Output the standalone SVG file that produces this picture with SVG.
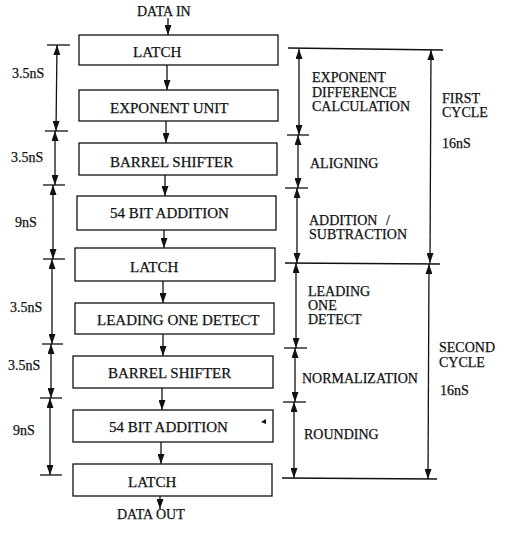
<svg xmlns="http://www.w3.org/2000/svg" width="508" height="536" viewBox="0 0 508 536">
<style>
  .box { fill: #fff; stroke: #111; stroke-width: 1.3; }
  .t { font-family: "Liberation Serif", "Times New Roman", serif; fill: #111; stroke: #111; stroke-width: 0.25; }
  .bt { font-size: 15px; }
  .lt { font-size: 14px; }
  .ln { stroke: #111; stroke-width: 1.3; fill: none; }
  .arr { stroke: #111; stroke-width: 1.3; fill: none; marker-end: url(#ah); }
  .dim { stroke: #111; stroke-width: 1.3; fill: none; marker-start: url(#ah); marker-end: url(#ah); }
</style>
<defs>
  <marker id="ah" viewBox="0 0 10 7" refX="10" refY="3.5" markerWidth="10" markerHeight="7" markerUnits="userSpaceOnUse" orient="auto-start-reverse">
    <path d="M0,0 L10,3.5 L0,7 z" fill="#111"/>
  </marker>
</defs>
<rect width="508" height="536" fill="#fff"/>

<g id="data-in"><text class="t lt" x="137" y="16" font-size="13.5">DATA IN</text></g>
<g id="latch1"><rect class="box" x="79" y="35" width="199" height="30"/><text class="t bt" x="133" y="57">LATCH</text></g>
<g id="exponent-unit"><rect class="box" x="79" y="90" width="199" height="31"/><text class="t bt" x="110" y="113">EXPONENT UNIT</text></g>
<g id="barrel-shifter1"><rect class="box" x="79" y="143" width="198" height="32"/><text class="t bt" x="110" y="167">BARREL SHIFTER</text></g>
<g id="add1"><rect class="box" x="77" y="196" width="199" height="34"/><text class="t bt" x="110" y="218">54 BIT ADDITION</text></g>
<g id="latch2"><rect class="box" x="75" y="248" width="200" height="33"/><text class="t bt" x="130" y="272">LATCH</text></g>
<g id="leading-one"><rect class="box" x="75" y="303" width="199" height="31"/><text class="t bt" x="97" y="325">LEADING ONE DETECT</text></g>
<g id="barrel-shifter2"><rect class="box" x="73" y="356" width="200" height="32"/><text class="t bt" x="108" y="378">BARREL SHIFTER</text></g>
<g id="add2"><rect class="box" x="73" y="410" width="200" height="32"/><text class="t bt" x="109" y="432">54 BIT ADDITION</text><path d="M266,419 L261,422 L266,424 z" fill="#111"/></g>
<g id="latch3"><rect class="box" x="73" y="464" width="199" height="32"/><text class="t bt" x="128" y="487">LATCH</text></g>
<g id="data-out"><text class="t lt" x="117" y="519" font-size="13.5">DATA OUT</text></g>

<g id="connectors">
  <line class="arr" x1="168" y1="18" x2="168" y2="35"/>
  <line class="arr" x1="167" y1="65" x2="167" y2="90"/>
  <line class="arr" x1="166" y1="121" x2="166" y2="143"/>
  <line class="arr" x1="165" y1="175" x2="165" y2="196"/>
  <line class="arr" x1="164" y1="230" x2="164" y2="248"/>
  <line class="arr" x1="163" y1="281" x2="163" y2="303"/>
  <line class="arr" x1="163" y1="334" x2="163" y2="356"/>
  <line class="arr" x1="162" y1="388" x2="162" y2="410"/>
  <line class="arr" x1="161" y1="442" x2="161" y2="464"/>
  <line class="arr" x1="160" y1="496" x2="160" y2="509"/>
</g>

<g id="left-timing">
  <line class="ln" x1="47" y1="45" x2="70" y2="45"/>
  <line class="ln" x1="45" y1="131" x2="68" y2="131"/>
  <line class="ln" x1="43" y1="185" x2="65" y2="185"/>
  <line class="ln" x1="43" y1="259" x2="65" y2="259"/>
  <line class="ln" x1="42" y1="344" x2="63" y2="344"/>
  <line class="ln" x1="40" y1="398" x2="62" y2="398"/>
  <line class="ln" x1="40" y1="475" x2="62" y2="475"/>
  <line class="dim" x1="57" y1="45" x2="56" y2="131"/>
  <line class="dim" x1="55" y1="131" x2="55" y2="185"/>
  <line class="dim" x1="53" y1="185" x2="53" y2="259"/>
  <line class="dim" x1="52" y1="259" x2="52" y2="344"/>
  <line class="dim" x1="51" y1="344" x2="51" y2="398"/>
  <line class="dim" x1="50" y1="398" x2="50" y2="475"/>
  <text class="t lt" x="12" y="78">3.5nS</text>
  <text class="t lt" x="11" y="162">3.5nS</text>
  <text class="t lt" x="15" y="227">9nS</text>
  <text class="t lt" x="10" y="312">3.5nS</text>
  <text class="t lt" x="8" y="370">3.5nS</text>
  <text class="t lt" x="13" y="435">9nS</text>
</g>

<g id="right-timing">
  <line class="ln" x1="288" y1="48" x2="443" y2="50"/>
  <line class="ln" x1="287" y1="135" x2="309" y2="135"/>
  <line class="ln" x1="285" y1="188" x2="308" y2="188"/>
  <line class="ln" x1="285" y1="263" x2="440" y2="264"/>
  <line class="ln" x1="284" y1="348" x2="307" y2="348"/>
  <line class="ln" x1="283" y1="402" x2="306" y2="402"/>
  <line class="ln" x1="282" y1="478" x2="437" y2="479"/>
  <line class="dim" x1="299" y1="49" x2="299" y2="135"/>
  <line class="dim" x1="298" y1="135" x2="298" y2="188"/>
  <line class="dim" x1="297" y1="188" x2="297" y2="263"/>
  <line class="dim" x1="296" y1="263" x2="296" y2="348"/>
  <line class="dim" x1="295" y1="348" x2="295" y2="402"/>
  <line class="dim" x1="294" y1="402" x2="294" y2="478"/>
  <line class="dim" x1="431" y1="50" x2="430" y2="263"/>
  <line class="dim" x1="429" y1="264" x2="428" y2="479"/>
  <text class="t lt" x="312" y="82">EXPONENT<tspan x="312" y="97">DIFFERENCE</tspan><tspan x="312" y="111">CALCULATION</tspan></text>
  <text class="t lt" x="310" y="168">ALIGNING</text>
  <text class="t lt" x="309" y="225">ADDITION <tspan x="386">/</tspan><tspan x="309" y="239">SUBTRACTION</tspan></text>
  <text class="t lt" x="308" y="296">LEADING<tspan x="308" y="310">ONE</tspan><tspan x="308" y="324">DETECT</tspan></text>
  <text class="t lt" x="302" y="383">NORMALIZATION</text>
  <text class="t lt" x="304" y="439">ROUNDING</text>
  <text class="t lt" x="442" y="103">FIRST<tspan x="442" y="117">CYCLE</tspan></text>
  <text class="t lt" x="442" y="148">16nS</text>
  <text class="t lt" x="439" y="352">SECOND<tspan x="439" y="367">CYCLE</tspan></text>
  <text class="t lt" x="440" y="395">16nS</text>
</g>
</svg>
